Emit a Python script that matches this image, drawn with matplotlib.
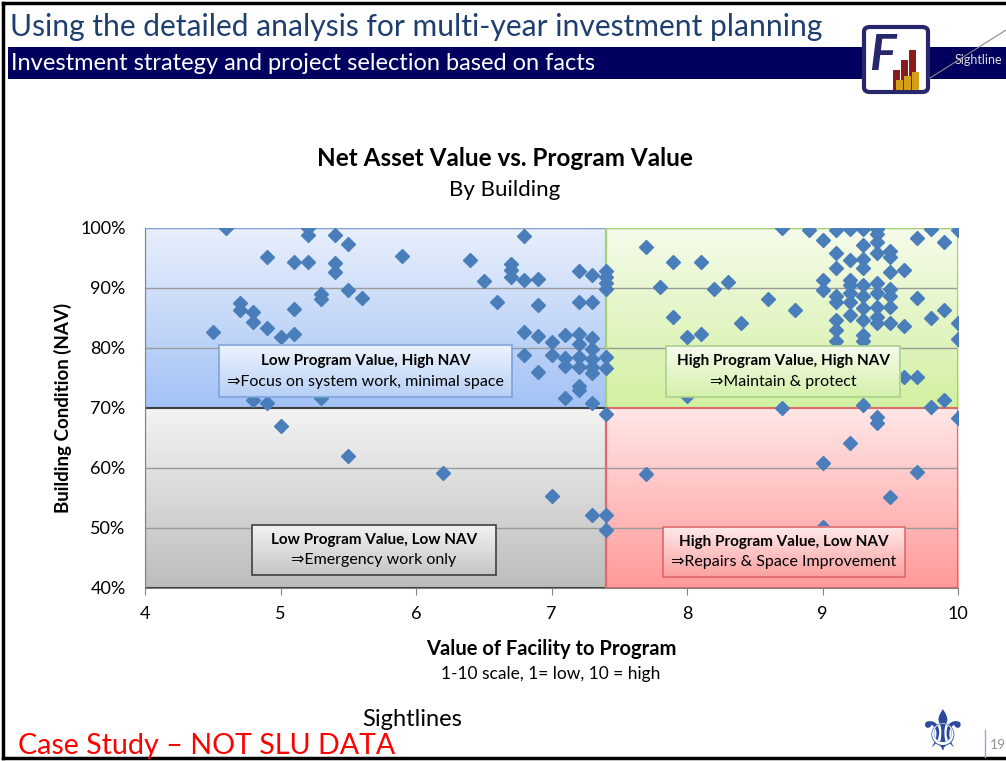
import matplotlib
matplotlib.use('Agg')
import matplotlib.pyplot as plt
import numpy as np
from matplotlib.patches import Rectangle, FancyBboxPatch
from matplotlib.ticker import FuncFormatter

plt.rcParams['font.family'] = ['Lato', 'DejaVu Sans']

# building scores: value of facility to program (1-10) vs. net asset value (%)
bldg_value = [
    4.5, 4.6, 4.7, 4.7, 4.8, 4.8, 4.9, 4.9, 5.0, 5.1, 5.1, 5.1, 5.2, 5.2, 5.2,
    5.3, 5.3, 5.4, 5.4, 5.4, 5.5, 5.5, 5.6, 4.8, 4.9, 5.3, 5.9, 6.4, 6.5, 6.6,
    6.7, 6.7, 6.7, 6.8, 6.8, 6.8, 6.8, 6.9, 6.9, 6.9, 6.9, 7.0, 7.0, 7.1, 7.1,
    7.1, 7.1, 7.2, 7.2, 7.2, 7.2, 7.2, 7.2, 7.2, 7.2, 7.3, 7.3, 7.3, 7.3, 7.3,
    7.3, 7.3, 7.3, 7.4, 7.4, 7.4, 7.4, 7.4, 7.4, 7.4,
    5.0, 5.5, 6.2, 7.0, 7.3, 7.4, 7.4,
    7.7, 7.9, 8.1, 7.8, 8.2, 8.3, 8.7, 8.6, 8.8, 7.9, 8.4, 8.0, 8.1, 8.0, 8.7,
    8.9, 9.0, 9.1, 9.2, 9.3, 9.4, 9.4, 9.7, 9.8, 9.9, 10.0, 9.3, 9.4, 9.1, 9.2,
    9.3, 9.4, 9.5, 9.5, 9.1, 9.3, 9.5, 9.6, 9.0, 9.0, 9.2, 9.2, 9.3, 9.4, 9.5,
    9.1, 9.1, 9.2, 9.2, 9.3, 9.4, 9.5, 9.3, 9.4, 9.5, 9.7, 9.2, 9.4, 9.1, 9.3,
    9.8, 9.9, 9.5, 9.6, 10.0, 9.4, 9.1, 9.3, 9.1, 9.3, 10.0, 9.6, 9.7, 9.3, 9.8,
    9.9, 10.0, 9.4, 9.4, 9.2, 9.0, 9.7, 7.7, 9.5, 9.0,
]
bldg_nav = [
    82.7, 100.0, 87.5, 86.3, 86.0, 84.3, 95.2, 83.3, 81.8, 86.5, 82.3, 94.4, 100.0, 98.8, 94.4,
    89.0, 88.2, 98.8, 94.2, 92.6, 97.3, 89.7, 88.3, 71.3, 70.8, 71.7, 95.3, 94.7, 91.2, 87.7,
    94.0, 93.0, 91.9, 98.6, 91.3, 82.7, 78.8, 91.5, 87.2, 82.0, 76.0, 81.0, 78.8, 82.2, 78.3,
    77.0, 71.6, 92.9, 87.7, 82.4, 80.7, 78.5, 76.9, 73.6, 73.0, 92.2, 87.7, 81.7, 79.8, 78.2,
    76.8, 75.8, 70.8, 92.9, 91.8, 90.8, 89.8, 78.5, 76.7, 69.0,
    67.0, 62.0, 59.1, 55.4, 52.2, 52.2, 49.7,
    96.8, 94.4, 94.4, 90.1, 89.9, 91.0, 100.0, 88.1, 86.4, 85.1, 84.2, 81.9, 82.4, 72.0, 70.0,
    99.6, 98.0, 99.7, 99.9, 99.9, 99.9, 99.0, 98.4, 99.9, 97.6, 99.7, 97.2, 97.6, 95.8, 94.7,
    94.8, 95.9, 96.1, 95.1, 93.4, 93.3, 92.7, 93.0, 91.3, 89.7, 91.3, 90.5, 90.5, 90.9, 89.8,
    88.6, 87.7, 89.1, 87.7, 88.6, 89.2, 88.6, 86.6, 86.9, 86.9, 88.4, 85.5, 85.2, 84.7, 84.7,
    85.0, 86.3, 84.1, 83.7, 84.1, 84.1, 83.0, 82.2, 81.1, 81.1, 81.5, 75.2, 75.1, 70.5, 70.2,
    71.3, 68.3, 68.5, 67.5, 64.1, 60.8, 59.4, 59.0, 55.2, 50.2,
]

x_split = 7.4
y_split = 70

quad_titles = ['Low Program Value, High NAV', 'High Program Value, High NAV',
               'Low Program Value, Low NAV', 'High Program Value, Low NAV']
quad_notes = ['\u21d2Focus on system work, minimal space', '\u21d2Maintain & protect',
              '\u21d2Emergency work only', '\u21d2Repairs & Space Improvement']

W, H = 1006, 761
fig = plt.figure(figsize=(W / 100, H / 100), dpi=100)


def fx(px):
    return px / W


def fy(py):
    return 1 - py / H


# ---- slide frame / header ----
fig.add_artist(plt.Line2D([fx(3), fx(1006)], [fy(3), fy(3)], color='black', lw=2.5))
fig.add_artist(plt.Line2D([fx(3), fx(3)], [fy(3), fy(758)], color='black', lw=2.5))
fig.add_artist(plt.Line2D([fx(3), fx(1006)], [fy(758), fy(758)], color='black', lw=2.5))
fig.add_artist(Rectangle((fx(8), fy(79)), fx(998), fy(47) - fy(79), color='#00005e', lw=0))
fig.text(fx(10), fy(27), 'Using the detailed analysis for multi-year investment planning',
         color='#1f3f6e', fontsize=21.6, va='center', ha='left')
fig.text(fx(11), fy(63), 'Investment strategy and project selection based on facts',
         color='white', fontsize=17, va='center', ha='left')
fig.add_artist(plt.Line2D([fx(930), fx(1006)], [fy(78), fy(30)], color='#8a8a8a', lw=0.8))
fig.text(fx(955), fy(60), 'Sightline', color='#dddddd', fontsize=9, va='center', ha='left')

# logo
fig.add_artist(FancyBboxPatch((fx(864), fy(92)), fx(64), fy(27) - fy(92),
                              boxstyle='round,pad=0,rounding_size=0.006',
                              fc='white', ec='#27276b', lw=3))
fig.text(fx(882), fy(55), 'F', color='#27276b', fontsize=36, fontweight='bold',
         style='italic', va='center', ha='center')
for bx, bt, bc in [(893, 70, '#8b1a1a'), (901, 60, '#8b1a1a'), (909, 50, '#8b1a1a'),
                   (896, 80, '#d4a017'), (904, 76, '#d4a017'), (912, 72, '#d4a017')]:
    fig.add_artist(Rectangle((fx(bx), fy(90)), fx(7), fy(bt) - fy(90), color=bc, lw=0))

# ---- chart ----
ax = fig.add_axes([fx(145), fy(588), fx(958) - fx(145), fy(228) - fy(588)])


def gradient(x0, x1, y0, y1, top, bottom, z):
    c0 = np.array(matplotlib.colors.to_rgb(top))
    c1 = np.array(matplotlib.colors.to_rgb(bottom))
    t = np.linspace(0, 1, 64)[:, None]
    img = (c0 * (1 - t) + c1 * t)[:, None, :]
    ax.imshow(img, extent=(x0, x1, y0, y1), aspect='auto', origin='upper',
              zorder=z, interpolation='bicubic')


quads = [
    (4, x_split, y_split, 100, '#e8effc', '#a3c2f5', '#7fa3da'),
    (x_split, 10, y_split, 100, '#f5fbea', '#d2f0a2', '#a4d36a'),
    (4, x_split, 40, y_split, '#f3f3f3', '#bdbdbd', '#404040'),
    (x_split, 10, 40, y_split, '#ffe6e6', '#ff9a9a', '#e06a6a'),
]
for x0, x1, y0, y1, ct, cb, ce in quads:
    gradient(x0, x1, y0, y1, ct, cb, 0)
    ax.add_patch(Rectangle((x0, y0), x1 - x0, y1 - y0, fill=False, ec=ce, lw=1.5, zorder=2))

for g in [50, 60, 80, 90, 100]:
    ax.axhline(g, color='#9a9a9a', lw=1, zorder=1)

ax.plot(bldg_value, bldg_nav, linestyle='none', marker='D', markersize=7.3,
        color='#4a7ebb', zorder=3)

boxes = [
    (4.546, 6.708, 71.8, 80.5, '#eef4fd', '#b7d0f7', '#7ba3dc'),
    (7.845, 9.572, 71.8, 80.3, '#f5fbec', '#d4f1aa', '#a9d18e'),
    (4.79, 6.59, 42.2, 50.5, '#f2f2f2', '#c6c6c6', '#404040'),
    (7.82, 9.61, 41.8, 50.2, '#ffeaea', '#fba0a0', '#e06666'),
]
for (x0, x1, y0, y1, ct, cb, ce), t1, t2 in zip(boxes, quad_titles, quad_notes):
    gradient(x0, x1, y0, y1, ct, cb, 4)
    ax.add_patch(Rectangle((x0, y0), x1 - x0, y1 - y0, fill=False, ec=ce, lw=1.2, zorder=5))
    xm = (x0 + x1) / 2
    ax.text(xm, y0 + (y1 - y0) * 0.70, t1, fontsize=11, fontweight='bold',
            ha='center', va='center', zorder=6)
    ax.text(xm, y0 + (y1 - y0) * 0.30, t2, fontsize=11.5,
            ha='center', va='center', zorder=6)

ax.set_xlim(4, 10)
ax.set_ylim(40, 100)
ax.set_xticks(range(4, 11))
ax.set_yticks(range(40, 101, 10))
ax.yaxis.set_major_formatter(FuncFormatter(lambda v, p: '{:d}%'.format(int(v))))
ax.tick_params(axis='both', labelsize=13, length=5, color='#808080')
ax.tick_params(axis='x', pad=8)
ax.tick_params(axis='y', pad=14, length=0)
for s in ['top', 'right']:
    ax.spines[s].set_visible(False)
ax.spines['left'].set_color('#808080')
ax.spines['bottom'].set_color('#808080')

ax.set_xlabel('Value of Facility to Program', fontsize=14.5, fontweight='bold', labelpad=12)
ax.set_ylabel('Building Condition (NAV)', fontsize=13.5, fontweight='bold', labelpad=6)
fig.text(fx(551), fy(674), '1-10 scale, 1= low, 10 = high', fontsize=12.5, ha='center', va='center')
fig.text(fx(505), fy(159), 'Net Asset Value vs. Program Value', fontsize=17.5,
         fontweight='bold', ha='center', va='center')
fig.text(fx(505), fy(190), 'By Building', fontsize=16, ha='center', va='center')

# ---- footer ----
fig.text(fx(18), fy(746), 'Case Study \u2013 NOT SLU DATA', color='#ff0000', fontsize=20.6,
         ha='left', va='center')
fig.text(fx(412), fy(720), 'Sightlines', color='black', fontsize=17, ha='center', va='center')
fig.text(fx(943), fy(735), '\u269c', color='#2c4a9c', fontsize=40, ha='center', va='center',
         family='DejaVu Sans')
fig.add_artist(plt.Line2D([fx(985), fx(985)], [fy(730), fy(757)], color='#8fa8d0', lw=1))
fig.text(fx(990), fy(745), '19', color='#909090', fontsize=10, ha='left', va='center')

fig.savefig('out.png', dpi=100)
